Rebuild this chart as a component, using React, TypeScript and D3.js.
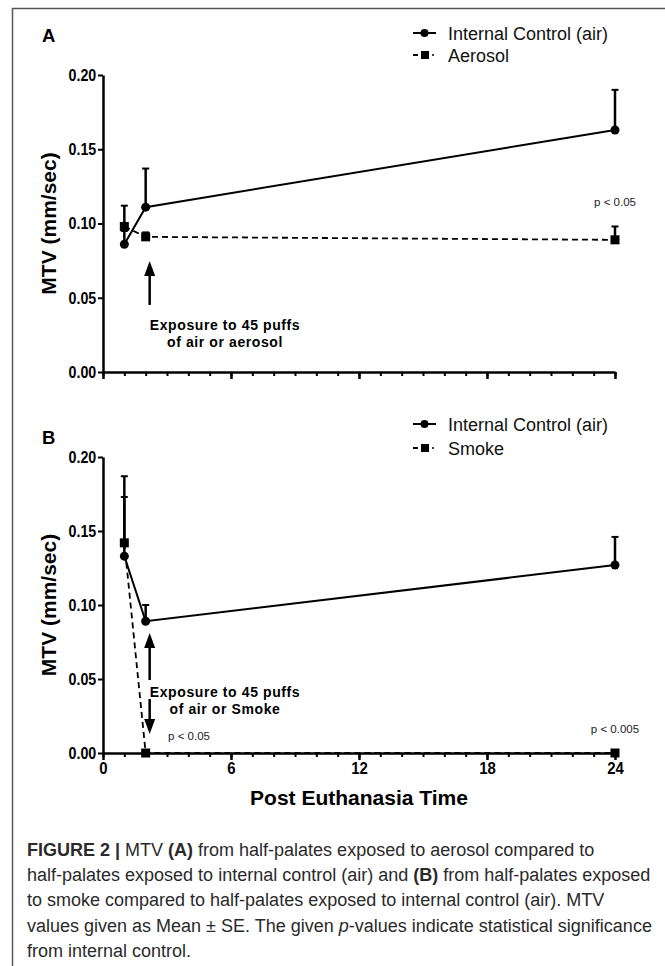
import React, { useEffect, useRef } from 'react';
import * as d3 from 'd3';

// hours after euthanasia where MTV was measured
const times = [1, 2, 24];

// panel A
const controlA = [0.086, 0.111, 0.163];
const controlAErr = [0.009, 0.026, 0.027];
const aerosol = [0.098, 0.091, 0.089];
const aerosolErr = [0.014, 0.003, 0.009];

// panel B
const controlB = [0.133, 0.089, 0.127];
const controlBErr = [0.040, 0.011, 0.019];
const smoke = [0.142, 0, 0];
const smokeErr = [0.045, 0, 0];

const yTicks = [0, 0.05, 0.1, 0.15, 0.2];
const xMajor = [0, 6, 12, 18, 24];

const caption = [
  [['FIGURE 2 |', 'b'], [' MTV ', ''], ['(A)', 'b'], [' from half-palates exposed to aerosol compared to', '']],
  [['half-palates exposed to internal control (air) and ', ''], ['(B)', 'b'], [' from half-palates exposed', '']],
  [['to smoke compared to half-palates exposed to internal control (air). MTV', '']],
  [['values given as Mean \u00b1 SE. The given ', ''], ['p', 'i'], ['-values indicate statistical significance', '']],
  [['from internal control.', '']],
];

const FONT = '"Liberation Sans", Arial, sans-serif';

const App = () => {
  const svgRef = useRef(null);

  useEffect(() => {
    drawChart();
  }, []);

  const drawChart = () => {
    const svg = d3.select(svgRef.current);
    svg.selectAll('*').remove();

    // figure frame (top and left edges)
    svg.append('path').attr('d', 'M12.5,966 L12.5,8.5 L665,8.5')
      .attr('fill', 'none').attr('stroke', '#555').attr('stroke-width', 1.5);

    const x = d3.scaleLinear().domain([0, 24]).range([103, 615]);

    const panels = [
      {
        label: 'A', top: 75, bottom: 372,
        ctrl: controlA, ctrlErr: controlAErr, trt: aerosol, trtErr: aerosolErr,
        legend: ['Internal Control (air)', 'Aerosol'], legendY: [33, 55],
        note: ['Exposure to 45 puffs', 'of air or aerosol'], noteY: 325,
        pLabels: [{ t: 'p < 0.05', x: 615, y: 202 }],
        xLabels: false,
      },
      {
        label: 'B', top: 457, bottom: 753,
        ctrl: controlB, ctrlErr: controlBErr, trt: smoke, trtErr: smokeErr,
        legend: ['Internal Control (air)', 'Smoke'], legendY: [424, 448],
        note: ['Exposure to 45 puffs', 'of air or Smoke'], noteY: 692,
        pLabels: [{ t: 'p < 0.005', x: 615, y: 729 }, { t: 'p < 0.05', x: 189, y: 736 }],
        xLabels: true,
      },
    ];

    panels.forEach((p) => {
      const y = d3.scaleLinear().domain([0, 0.2]).range([p.bottom, p.top]);
      const g = svg.append('g');

      g.append('text').attr('x', 42).attr('y', p.label === 'A' ? 42 : 444)
        .attr('font-family', FONT).attr('font-weight', 'bold').attr('font-size', 18.5).text(p.label);

      // y axis
      const yAxis = g.append('g').attr('transform', `translate(${x(0)},0)`)
        .call(d3.axisLeft(y).tickValues(yTicks).tickFormat(d3.format('.2f')).tickSize(5).tickSizeOuter(0).tickPadding(3));
      yAxis.select('.domain').attr('stroke-width', 2.5);
      yAxis.selectAll('line').attr('stroke-width', 2);
      yAxis.selectAll('text').attr('font-family', FONT).attr('font-weight', 'bold').attr('font-size', 17)
        .attr('fill', '#000').attr('transform', 'scale(0.84,1)');

      g.append('text')
        .attr('transform', `translate(56,${(p.top + p.bottom) / 2}) rotate(-90)`)
        .attr('text-anchor', 'middle').attr('font-family', FONT).attr('font-weight', 'bold')
        .attr('font-size', 21).text('MTV (mm/sec)');

      // x axis: minor hour ticks then major ticks
      const xMinor = g.append('g').attr('transform', `translate(0,${p.bottom})`)
        .call(d3.axisBottom(x).tickValues(d3.range(0, 25)).tickFormat(() => '').tickSize(4).tickSizeOuter(0));
      xMinor.select('.domain').attr('stroke-width', 2.5);
      xMinor.selectAll('line').attr('stroke-width', 2);
      const xAx = g.append('g').attr('transform', `translate(0,${p.bottom})`)
        .call(d3.axisBottom(x).tickValues(xMajor).tickFormat(p.xLabels ? d3.format('d') : () => '').tickSize(7).tickSizeOuter(0).tickPadding(2));
      xAx.select('.domain').remove();
      xAx.selectAll('line').attr('stroke-width', 2.5);
      xAx.selectAll('text').attr('font-family', FONT).attr('font-weight', 'bold').attr('font-size', 17)
        .attr('fill', '#000').attr('transform', 'scale(0.88,1)');

      if (p.xLabels) {
        g.append('text').attr('x', (x(0) + x(24)) / 2).attr('y', p.bottom + 52)
          .attr('text-anchor', 'middle').attr('font-family', FONT).attr('font-weight', 'bold')
          .attr('font-size', 21).text('Post Euthanasia Time');
      }

      const line = d3.line().x((d) => x(d[0])).y((d) => y(d[1]));
      const ctrlPts = times.map((t, i) => [t, p.ctrl[i]]);
      const trtPts = times.map((t, i) => [t, p.trt[i]]);

      // error bars (upper only)
      const errBars = (vals, errs) => {
        times.forEach((t, i) => {
          const top = y(vals[i] + errs[i]);
          g.append('line').attr('x1', x(t)).attr('x2', x(t)).attr('y1', y(vals[i])).attr('y2', top)
            .attr('stroke', '#000').attr('stroke-width', 2.5);
          g.append('line').attr('x1', x(t) - 3.5).attr('x2', x(t) + 3.5).attr('y1', top).attr('y2', top)
            .attr('stroke', '#000').attr('stroke-width', 2);
        });
      };
      errBars(p.trt, p.trtErr);
      errBars(p.ctrl, p.ctrlErr);

      g.append('path').datum(trtPts).attr('d', line).attr('fill', 'none')
        .attr('stroke', '#000').attr('stroke-width', 1.8).attr('stroke-dasharray', '6,4');
      g.append('path').datum(ctrlPts).attr('d', line).attr('fill', 'none')
        .attr('stroke', '#000').attr('stroke-width', 2);

      g.selectAll('.sq').data(trtPts).enter().append('rect')
        .attr('x', (d) => x(d[0]) - 4.5).attr('y', (d) => y(d[1]) - 4.5)
        .attr('width', 9).attr('height', 9).attr('fill', '#000');
      g.selectAll('.ci').data(ctrlPts).enter().append('circle')
        .attr('cx', (d) => x(d[0])).attr('cy', (d) => y(d[1])).attr('r', 4.5).attr('fill', '#000');

      // legend
      const lx = 413;
      g.append('line').attr('x1', lx).attr('x2', lx + 23).attr('y1', p.legendY[0]).attr('y2', p.legendY[0])
        .attr('stroke', '#000').attr('stroke-width', 2);
      g.append('circle').attr('cx', lx + 11.5).attr('cy', p.legendY[0]).attr('r', 4).attr('fill', '#000');
      g.append('line').attr('x1', lx).attr('x2', lx + 5).attr('y1', p.legendY[1]).attr('y2', p.legendY[1])
        .attr('stroke', '#000').attr('stroke-width', 2);
      g.append('rect').attr('x', lx + 8).attr('y', p.legendY[1] - 4).attr('width', 8).attr('height', 8).attr('fill', '#000');
      g.append('line').attr('x1', lx + 19).attr('x2', lx + 21).attr('y1', p.legendY[1]).attr('y2', p.legendY[1])
        .attr('stroke', '#000').attr('stroke-width', 1.5);
      p.legend.forEach((t, i) => {
        g.append('text').attr('x', 448).attr('y', p.legendY[i] + 6.5)
          .attr('font-family', FONT).attr('font-size', 18).attr('fill', '#111').text(t);
      });

      // exposure annotation
      p.note.forEach((t, i) => {
        g.append('text').attr('x', 225).attr('y', p.noteY + 5 + i * 17)
          .attr('text-anchor', 'middle').attr('font-family', FONT).attr('font-weight', 'bold')
          .attr('font-size', 14).attr('letter-spacing', 0.6).text(t);
      });

      p.pLabels.forEach((l) => {
        g.append('text').attr('x', l.x).attr('y', l.y + 4).attr('text-anchor', 'middle')
          .attr('font-family', FONT).attr('font-size', 11.5).attr('fill', '#222').text(l.t);
      });

      // arrows
      const ax = x(2) + 4;
      const arrow = (y1, tipY, dir) => {
        g.append('line').attr('x1', ax).attr('x2', ax).attr('y1', y1).attr('y2', tipY - dir * 12)
          .attr('stroke', '#000').attr('stroke-width', 2.5);
        g.append('path')
          .attr('d', `M${ax},${tipY} L${ax - 5.5},${tipY - dir * 15} L${ax + 5.5},${tipY - dir * 15} Z`)
          .attr('fill', '#000');
      };
      if (p.label === 'A') {
        arrow(305, 261, -1);
      } else {
        arrow(680, 633, -1);
        arrow(699, 734, 1);
      }
    });

    // caption
    caption.forEach((ln, i) => {
      const t = svg.append('text').attr('x', 27).attr('y', 856 + i * 25.2)
        .attr('font-family', FONT).attr('font-size', 18).attr('fill', '#2a2a2a');
      ln.forEach(([s, st]) => {
        t.append('tspan').text(s)
          .attr('font-weight', st === 'b' ? 'bold' : 'normal')
          .attr('font-style', st === 'i' ? 'italic' : 'normal');
      });
    });
  };

  return (
    <svg ref={svgRef} width={665} height={966}
      style={{ position: 'absolute', left: 0, top: 0, background: '#fff' }} />
  );
};

export default App;
